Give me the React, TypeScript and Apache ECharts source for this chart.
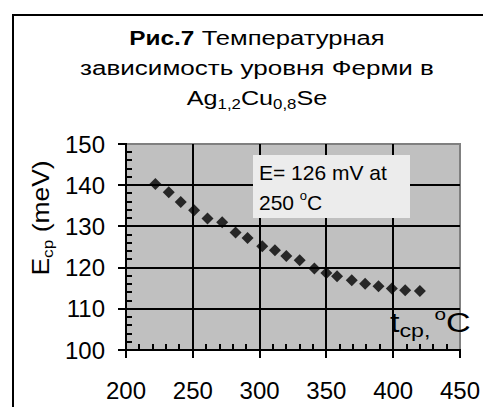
import React, { useEffect, useRef } from "react";
import * as echarts from "echarts";

const temperatures = [222, 232, 241, 251, 261, 272, 282, 291, 302, 311.5, 320, 330, 341, 350, 358, 369, 379, 389, 399, 409, 420];
const energies = [140.3, 138.3, 135.9, 133.9, 131.9, 131.0, 128.5, 127.2, 125.2, 124.2, 122.8, 121.8, 119.8, 118.7, 117.9, 116.9, 116.1, 115.5, 114.9, 114.5, 114.3];
const xTicks = { min: 200, max: 450, interval: 50 };
const yTicks = { min: 100, max: 150, interval: 10 };
const xGridValues = [250, 300, 350, 400];
const yGridValues = [110, 120, 130, 140];
const xMinorStep = 10;
const yMinorStep = 2;
const titleLines = ["Температурная", "зависимость уровня Ферми в"];
const annotationLines = ["E= 126 mV at", "250 "];

const FONT = "'Liberation Sans', Arial, sans-serif";

export default function App() {
  const ref = useRef<HTMLDivElement>(null);
  useEffect(() => {
    if (!ref.current) return;
    const chart = echarts.init(ref.current, null, { renderer: "svg" });
    const data = temperatures.map((t, i) => [t, energies[i]]);
    const axisCommon = {
      type: "value",
      axisLine: { show: false },
      axisTick: { show: false },
      minorTick: { show: false },
      axisLabel: { color: "#000", fontSize: 24, fontFamily: FONT },
      splitLine: { show: false },
    };
    const renderGrid = (params: any, api: any) => {
      if (params.dataIndex !== 0) return null;
      const children: any[] = [];
      const o = api.coord([xTicks.min, yTicks.min]);
      const tr = api.coord([xTicks.max, yTicks.max]);
      const box = (x: number, y: number, w: number, h: number, fill: string) =>
        children.push({ type: "rect", shape: { x, y, width: w, height: h }, style: { fill } });
      // plot background and gray top/right border
      box(o[0], tr[1], tr[0] - o[0], o[1] - tr[1], "#c0c0c0");
      box(o[0], tr[1] - 1, tr[0] - o[0] + 1, 2, "#808080");
      box(tr[0] - 1, tr[1] - 1, 2, o[1] - tr[1] + 1, "#808080");
      // gridlines
      yGridValues.forEach((v) => {
        const p = api.coord([xTicks.min, v]);
        box(o[0] - 8, Math.round(p[1]) - 1, tr[0] - o[0] + 8, 2, "#000");
      });
      xGridValues.forEach((v) => {
        const p = api.coord([v, yTicks.min]);
        box(Math.round(p[0]) - 1, tr[1], 2, o[1] - tr[1] + 8, "#000");
      });
      // outward major ticks at the ends
      [yTicks.min, yTicks.max].forEach((v) => {
        const p = api.coord([xTicks.min, v]);
        box(o[0] - 8, Math.round(p[1]) - 1, 9, 2, "#000");
      });
      [xTicks.min, xTicks.max].forEach((v) => {
        const p = api.coord([v, yTicks.min]);
        box(Math.round(p[0]) - 1, o[1], 2, 8, "#000");
      });
      // inner minor ticks
      for (let v = xTicks.min + xMinorStep; v < xTicks.max; v += xMinorStep) {
        if (v % xTicks.interval === 0) continue;
        const p = api.coord([v, yTicks.min]);
        box(Math.round(p[0]) - 1, o[1] - 6, 2, 6, "#000");
      }
      for (let v = yTicks.min + yMinorStep; v < yTicks.max; v += yMinorStep) {
        if (v % yTicks.interval === 0) continue;
        const p = api.coord([xTicks.min, v]);
        box(o[0], Math.round(p[1]) - 1, 6, 2, "#000");
      }
      // axis lines
      box(Math.round(o[0]) - 1, tr[1], 2, o[1] - tr[1] + 1, "#000");
      box(o[0] - 1, Math.round(o[1]) - 1, tr[0] - o[0] + 2, 2, "#000");
      return { type: "group", children };
    };
    chart.setOption({
      animation: false,
      backgroundColor: "#fff",
      grid: { left: 126, top: 144, right: 14, bottom: 57, show: false },
      xAxis: { ...axisCommon, ...xTicks, axisLabel: { ...axisCommon.axisLabel, margin: 28 } },
      yAxis: { ...axisCommon, ...yTicks, axisLabel: { ...axisCommon.axisLabel, margin: 21 } },
      series: [
        {
          type: "custom",
          z: 3,
          silent: true,
          clip: false,
          data: [[xTicks.min, yTicks.min]],
          renderItem: renderGrid,
        },
        {
          type: "scatter",
          z: 5,
          data,
          symbol: "diamond",
          symbolSize: 12,
          itemStyle: { color: "#000" },
        },
      ],
      graphic: [
        { type: "rect", shape: { x: 12, y: 14, width: 700, height: 2 }, style: { fill: "#000" }, silent: true },
        { type: "rect", shape: { x: 12, y: 14, width: 2, height: 700 }, style: { fill: "#000" }, silent: true },
        {
          type: "text",
          x: 257, y: 38,
          scaleX: 1.22,
          style: {
            text: "{b|Рис.7}{n| " + titleLines[0] + "}",
            align: "center", verticalAlign: "middle",
            rich: {
              b: { fontSize: 20, fontWeight: "bold", fontFamily: "Liberation Sans", fill: "#000" },
              n: { fontSize: 21, fontFamily: FONT, fill: "#000" },
            },
          },
        },
        {
          type: "text",
          x: 257, y: 68,
          scaleX: 1.24,
          style: { text: titleLines[1], fontSize: 21, fontFamily: FONT, fill: "#000", align: "center", verticalAlign: "middle" },
        },
        {
          type: "text",
          x: 257, y: 98,
          scaleX: 1.2,
          style: {
            text: "{n|Ag}{s|1,2}{n|Cu}{s|0,8}{n|Se}",
            align: "center", verticalAlign: "middle",
            rich: {
              n: { fontSize: 21, fontFamily: FONT, fill: "#000", lineHeight: 26 },
              s: { fontSize: 14, fontFamily: FONT, fill: "#000", lineHeight: 14, verticalAlign: "bottom" },
            },
          },
        },
        {
          type: "text",
          x: 41, y: 218,
          rotation: Math.PI / 2,
          scaleX: 1.15,
          style: {
            text: "{n|E}{s|cp}{n| (meV)}",
            align: "center", verticalAlign: "middle",
            rich: {
              n: { fontSize: 23, fontFamily: FONT, fill: "#000", lineHeight: 28 },
              s: { fontSize: 15, fontFamily: FONT, fill: "#000", lineHeight: 15, verticalAlign: "bottom" },
            },
          },
        },
        {
          type: "rect",
          z: 100,
          shape: { x: 253, y: 155, width: 157, height: 63 },
          style: { fill: "#ececec" },
        },
        {
          type: "text",
          z: 101,
          x: 259, y: 172,
          style: { text: annotationLines[0], fontSize: 21, fontFamily: FONT, fill: "#000", align: "left", verticalAlign: "middle" },
        },
        {
          type: "text",
          z: 101,
          x: 259, y: 202,
          style: {
            text: "{n|" + annotationLines[1] + "}{p|o}{n|C}",
            align: "left", verticalAlign: "middle",
            rich: {
              n: { fontSize: 21, fontFamily: FONT, fill: "#000", lineHeight: 26 },
              p: { fontSize: 13, fontFamily: FONT, fill: "#000", lineHeight: 13, verticalAlign: "top" },
            },
          },
        },
        {
          type: "text",
          z: 101,
          x: 390, y: 323,
          scaleX: 1.22,
          style: {
            text: "{n|t}{s|cp,} {p|o}{n|C}",
            align: "left", verticalAlign: "middle",
            rich: {
              n: { fontSize: 28, fontFamily: FONT, fill: "#000", lineHeight: 34 },
              s: { fontSize: 19, fontFamily: FONT, fill: "#000", lineHeight: 20, verticalAlign: "bottom" },
              p: { fontSize: 17, fontFamily: FONT, fill: "#000", lineHeight: 16, verticalAlign: "top" },
            },
          },
        },
      ],
    });
    return () => chart.dispose();
  }, []);
  return (
    <div
      ref={ref}
      style={{ position: "fixed", left: 0, top: 0, width: 483, height: 407 }}
    />
  );
}
